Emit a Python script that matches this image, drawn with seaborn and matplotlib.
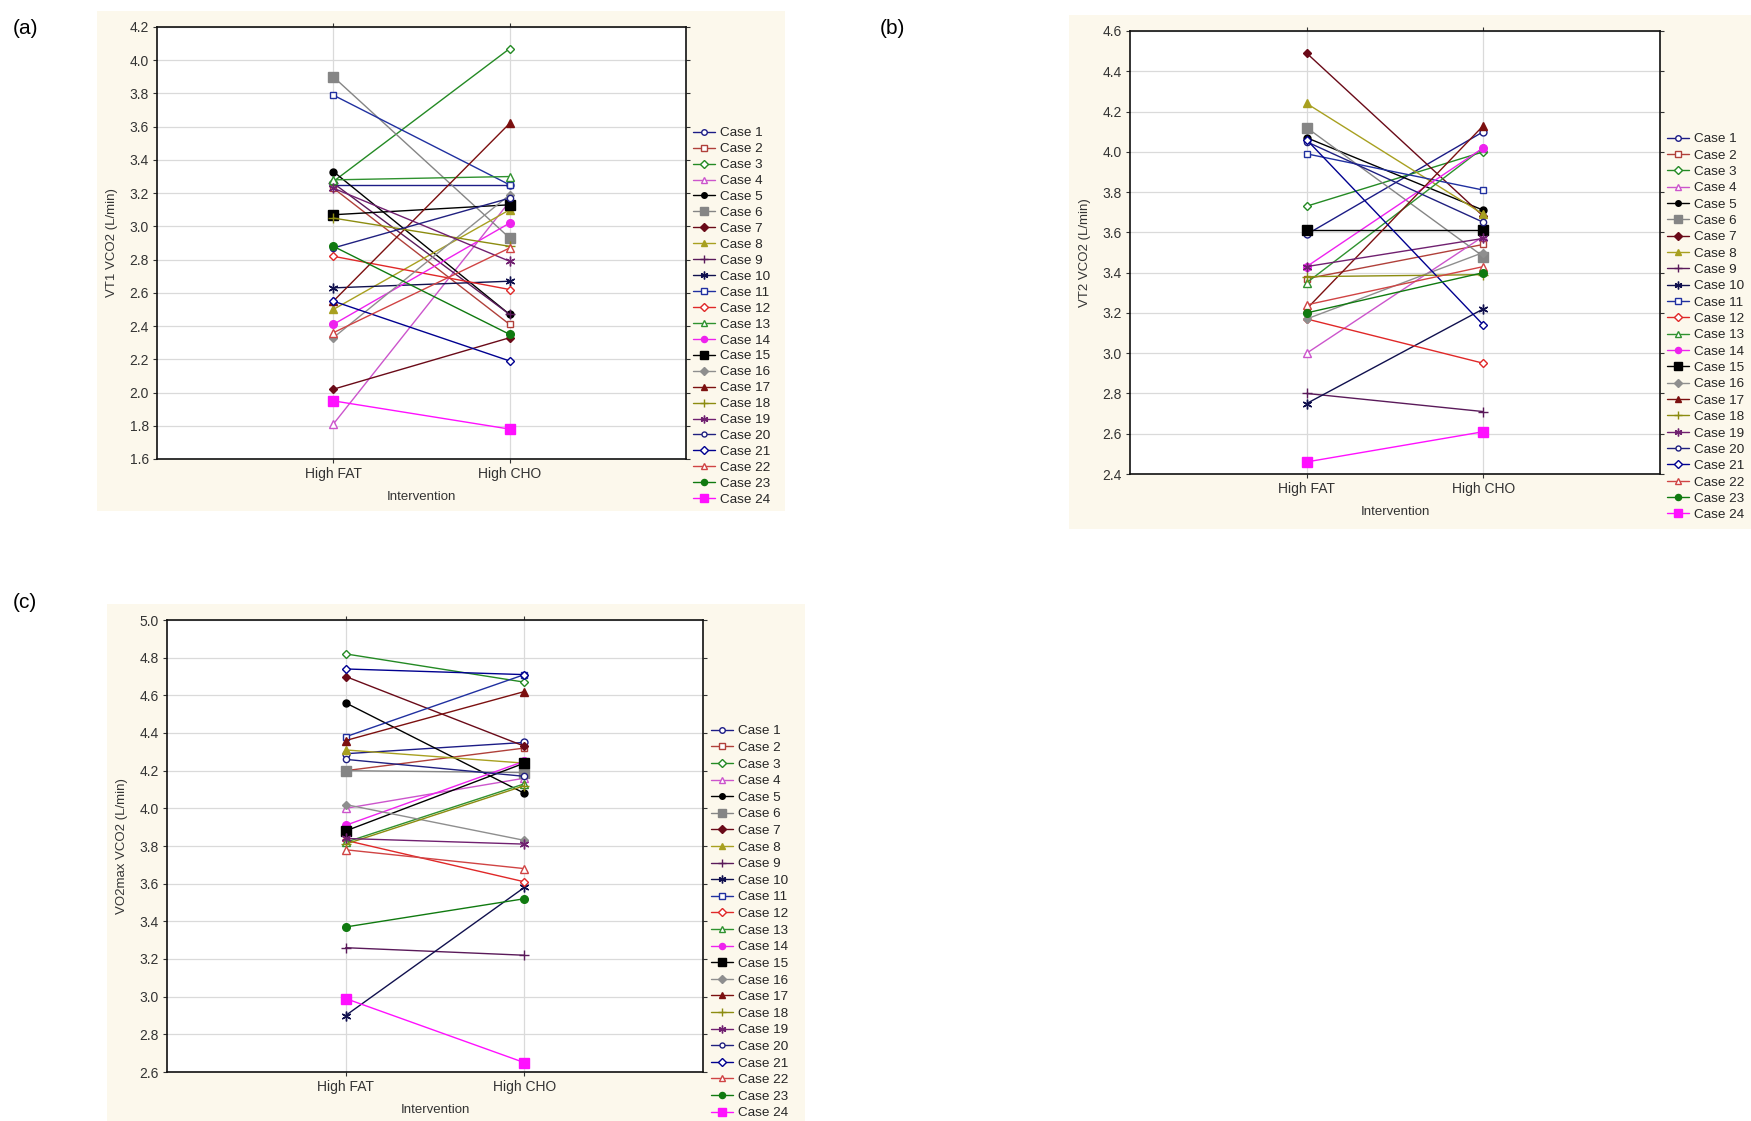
import numpy as np
import pandas as pd
import matplotlib
matplotlib.use("Agg")
import matplotlib.pyplot as plt
from matplotlib.patches import Rectangle
from matplotlib.lines import Line2D
import seaborn as sns

sns.set_style("ticks")
plt.rcParams["font.family"] = ["Liberation Sans", "DejaVu Sans"]

# ---- data -------------------------------------------------------------
interventions = ["High FAT", "High CHO"]
cases = [f"Case {i}" for i in range(1, 25)]

vt1_fat = [3.25, 3.23, 3.27, 1.81, 3.33, 3.90, 2.02, 2.50, 3.26, 2.63, 3.79, 2.82,
           3.28, 2.41, 3.07, 2.33, 2.55, 3.05, 3.23, 2.87, 2.55, 2.36, 2.88, 1.95]
vt1_cho = [3.25, 2.41, 4.07, 3.15, 2.47, 2.93, 2.33, 3.10, 2.47, 2.67, 3.25, 2.62,
           3.30, 3.02, 3.13, 3.19, 3.62, 2.88, 2.79, 3.17, 2.19, 2.87, 2.35, 1.78]

vt2_fat = [3.59, 3.37, 3.73, 3.00, 4.07, 4.12, 4.49, 4.24, 2.80, 2.75, 3.99, 3.17,
           3.35, 3.43, 3.61, 3.17, 3.22, 3.38, 3.43, 4.05, 4.06, 3.24, 3.20, 2.46]
vt2_cho = [4.10, 3.54, 4.00, 3.58, 3.71, 3.48, 3.68, 3.69, 2.71, 3.22, 3.81, 2.95,
           4.02, 4.02, 3.61, 3.50, 4.13, 3.39, 3.57, 3.65, 3.14, 3.43, 3.40, 2.61]

vo2_fat = [4.29, 4.20, 4.82, 4.00, 4.56, 4.20, 4.70, 4.31, 3.26, 2.90, 4.38, 3.83,
           3.82, 3.91, 3.88, 4.02, 4.36, 3.81, 3.84, 4.26, 4.74, 3.78, 3.37, 2.99]
vo2_cho = [4.35, 4.32, 4.67, 4.16, 4.08, 4.19, 4.33, 4.24, 3.22, 3.58, 4.71, 3.61,
           4.13, 4.25, 4.24, 3.83, 4.62, 4.12, 3.81, 4.17, 4.71, 3.68, 3.52, 2.65]

# ---- per-case styling ---------------------------------------------------
asterisk = (6, 2, 0)
case_colors = ["#1c1c86", "#b0403a", "#248a24", "#cc55cc", "#000000", "#858585",
               "#6a0a18", "#a8a020", "#5a1a5a", "#10104e", "#2030a0", "#e02828",
               "#2f922f", "#ee22ee", "#000000", "#8e8e8e", "#7c1010", "#8c8c10",
               "#702070", "#202080", "#000090", "#d04444", "#107a10", "#ff10ff"]
case_markers = ["o", "s", "D", "^", "o", "s", "D", "^", "+", asterisk, "s", "D",
                "^", "o", "s", "D", "^", "+", asterisk, "o", "D", "^", "o", "s"]
case_open = [True, True, True, True, False, False, False, False, False, False, True, True,
             True, False, False, False, False, False, False, True, True, True, False, False]
case_msize = [5, 5, 4.5, 5.5, 5, 6.5, 4.5, 5.5, 7, 7, 5, 4.5,
              5.5, 5.5, 6.5, 4.5, 5.5, 7, 7, 4.5, 4.5, 5.5, 5.5, 6.5]


def long_table(fat, cho):
    rows = []
    for c, f, h in zip(cases, fat, cho):
        rows.append((c, 0, f))
        rows.append((c, 1, h))
    return pd.DataFrame(rows, columns=["Case", "pos", "value"])


W, H = 1751, 1121
fig = plt.figure(figsize=(W / 100, H / 100), dpi=100)
fig.patch.set_facecolor("white")

panel_bg = "#fcf8ec"
# cream backgrounds behind each panel (pixel boxes: x0, y0, x1, y1)
for x0, y0, x1, y1 in [(97, 11, 785, 511), (1069, 15, 1751, 529), (107, 604, 805, 1121)]:
    fig.add_artist(Rectangle((x0 / W, 1 - y1 / H), (x1 - x0) / W, (y1 - y0) / H,
                             transform=fig.transFigure, facecolor=panel_bg,
                             edgecolor="none", zorder=-10))


def fig_rect(x0, y0, x1, y1):
    return [x0 / W, 1 - y1 / H, (x1 - x0) / W, (y1 - y0) / H]


def draw_panel(rect, fat, cho, ylim, ylabel, leg_xy, leg_spacing):
    ax = fig.add_axes(rect)
    ax.set_facecolor("white")
    df = long_table(fat, cho)
    handles = []
    for i, c in enumerate(cases):
        sub = df[df["Case"] == c]
        col = case_colors[i]
        mfc = "white" if case_open[i] else col
        sns.lineplot(data=sub, x="pos", y="value", ax=ax, color=col, lw=1.0,
                     marker=case_markers[i], markersize=case_msize[i],
                     markerfacecolor=mfc, markeredgecolor=col, markeredgewidth=1.0,
                     errorbar=None, legend=False, zorder=3)
        handles.append(Line2D([], [], color=col, lw=1.0, marker=case_markers[i],
                              markersize=case_msize[i] * 0.8, markerfacecolor=mfc,
                              markeredgecolor=col, markeredgewidth=1.0))
    ax.set_xlim(-1, 2)
    ax.set_ylim(*ylim)
    ax.set_yticks(np.round(np.arange(ylim[0], ylim[1] + 1e-9, 0.2), 1))
    ax.yaxis.set_major_formatter(matplotlib.ticker.FormatStrFormatter("%.1f"))
    ax.set_xticks([0, 1])
    ax.set_xticklabels(interventions)
    ax.grid(True, color="#dadada", lw=0.9, zorder=0)
    ax.set_axisbelow(True)
    for s in ax.spines.values():
        s.set_color("#111111")
        s.set_linewidth(1.2)
    ax.tick_params(axis="both", direction="out", length=3, width=0.8,
                   color="#333333", labelsize=10, labelcolor="#333333", pad=3)
    ax.tick_params(axis="y", right=True)
    ax.tick_params(axis="x", top=True)
    ax.set_xlabel("Intervention", fontsize=9.5, color="#333333", labelpad=7)
    ax.set_ylabel(ylabel, fontsize=9.5, color="#333333", labelpad=8)
    ax.legend(handles, cases, loc="upper left",
              bbox_to_anchor=(leg_xy[0] / W, 1 - leg_xy[1] / H),
              bbox_transform=fig.transFigure, frameon=False, fontsize=9.7,
              handlelength=1.6, handletextpad=0.4, labelspacing=leg_spacing,
              borderpad=0, borderaxespad=0)
    return ax


draw_panel(fig_rect(157, 27, 686, 459), vt1_fat, vt1_cho, (1.6, 4.2),
           "VT1 VCO2 (L/min)", (693, 127), 0.26)
draw_panel(fig_rect(1130, 31, 1660, 474), vt2_fat, vt2_cho, (2.4, 4.6),
           "VT2 VCO2 (L/min)", (1667, 133), 0.29)
draw_panel(fig_rect(167, 620, 703, 1072), vo2_fat, vo2_cho, (2.6, 5.0),
           "VO2max VCO2 (L/min)", (711, 725), 0.31)

for txt, x, y in [("(a)", 13, 28), ("(b)", 880, 28), ("(c)", 13, 603)]:
    fig.text(x / W, 1 - y / H, txt, fontsize=15, va="center", ha="left", color="black")

fig.savefig("out.png", dpi=100)
